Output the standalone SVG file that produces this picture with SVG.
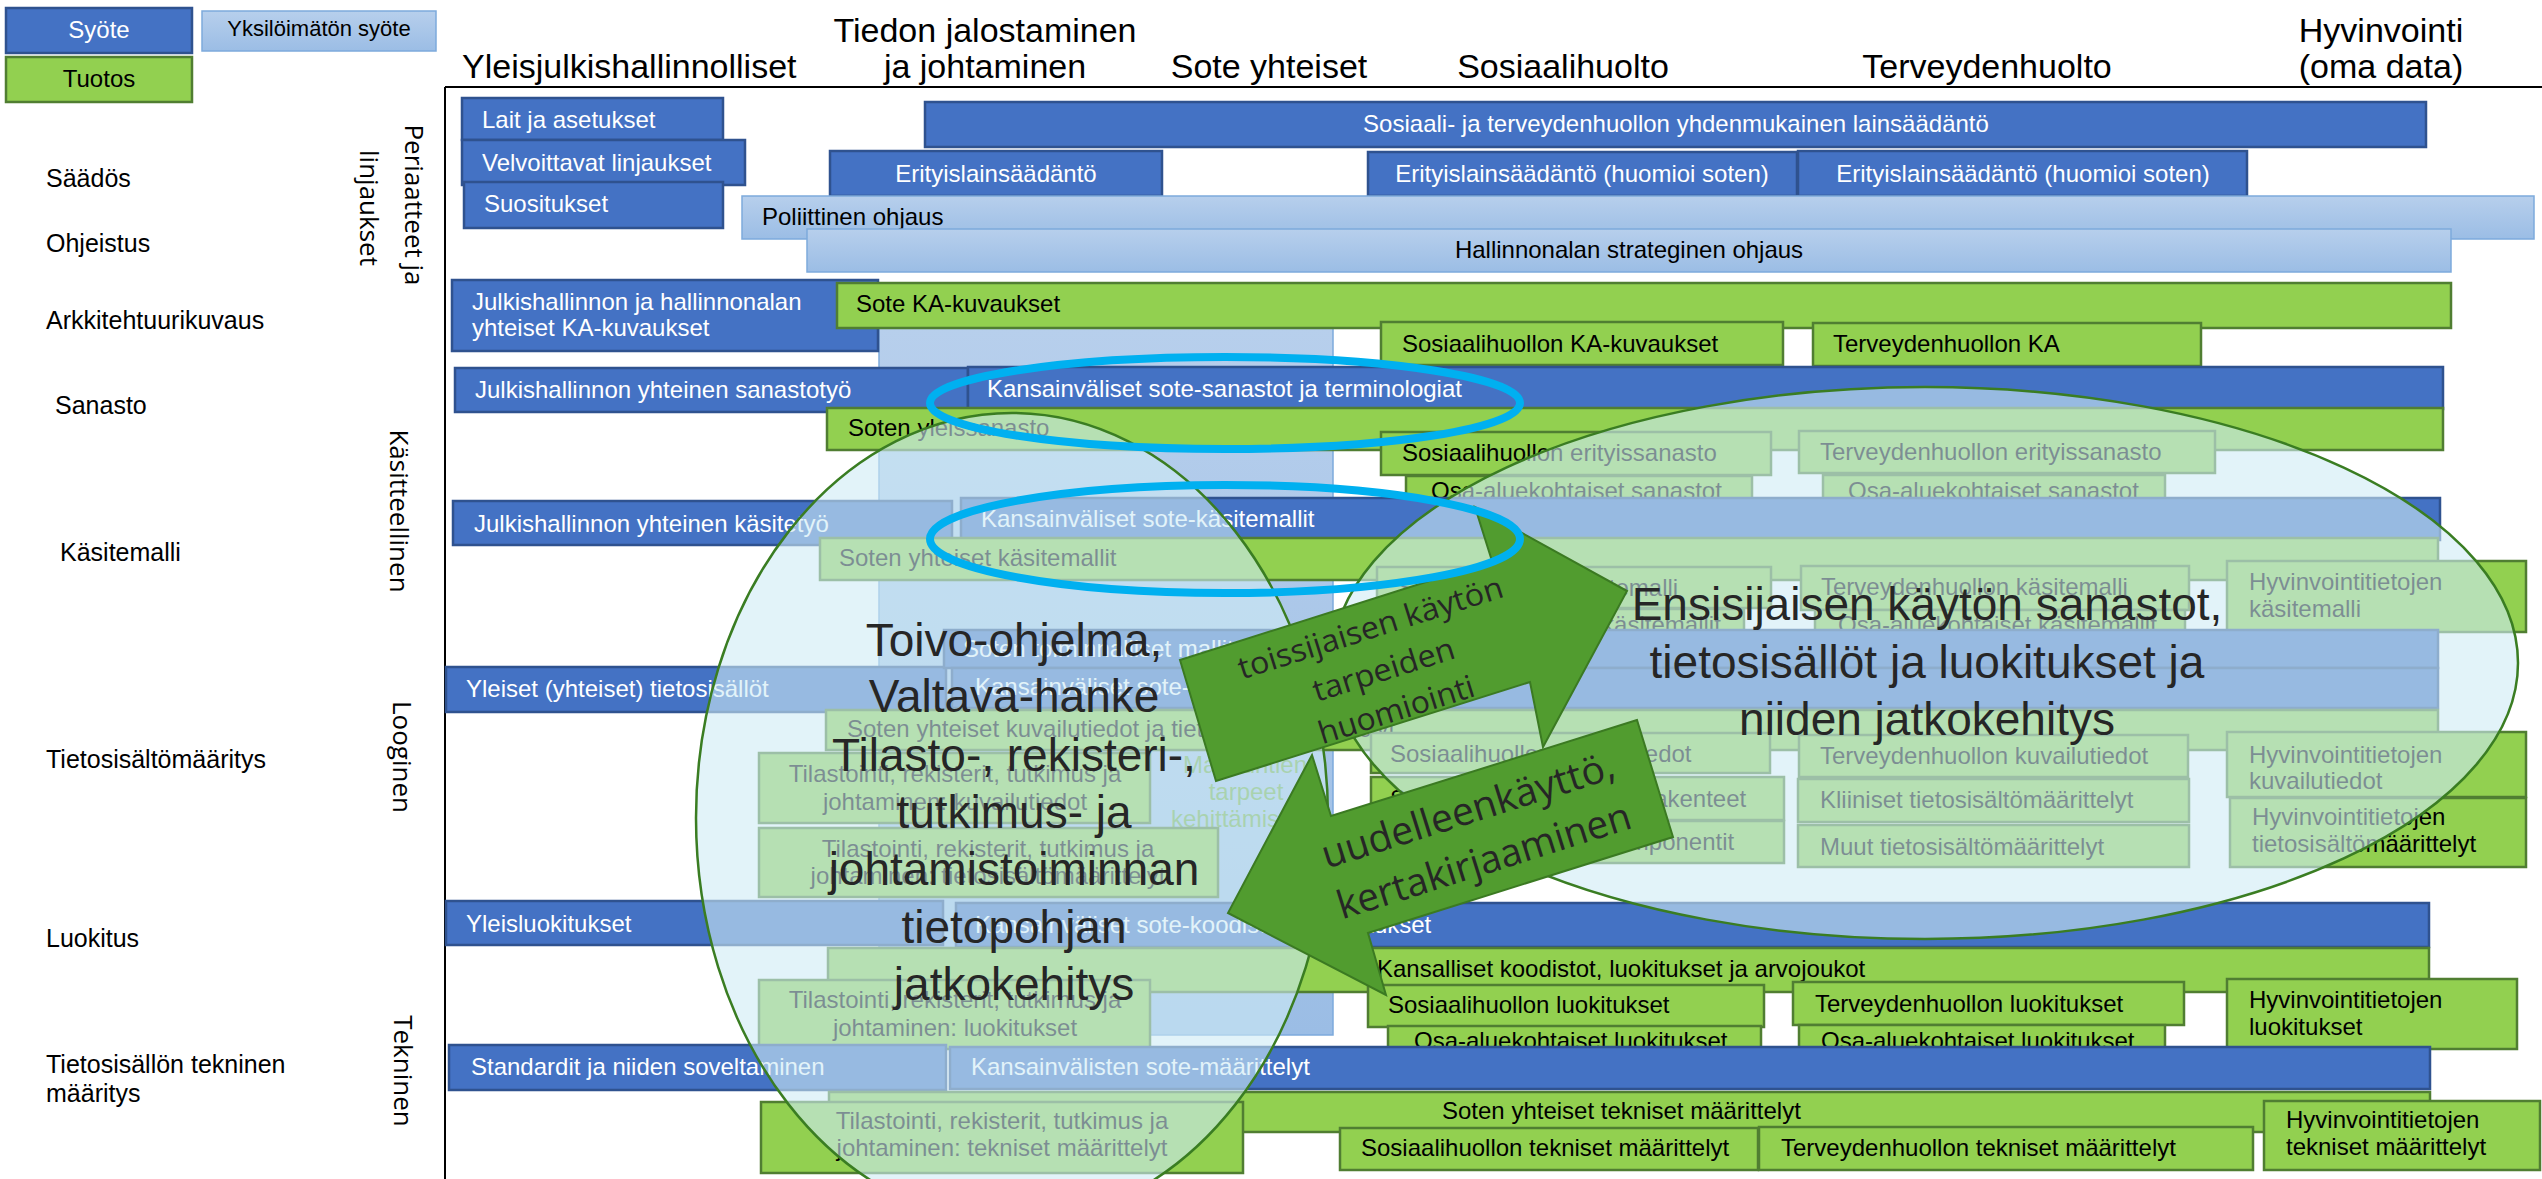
<svg xmlns="http://www.w3.org/2000/svg" width="2542" height="1179" viewBox="0 0 2542 1179">
<defs>
<linearGradient id="lbg" x1="0" y1="0" x2="0" y2="1"><stop offset="0" stop-color="#B7CFEC"/><stop offset="1" stop-color="#9BBDE5"/></linearGradient>
<style>
.db{fill:#4472C4;stroke:#2F528F;stroke-width:2.5}
.lb{fill:url(#lbg);stroke:#7DAADC;stroke-width:1.5}
.gr{fill:#92D050;stroke:#507E32;stroke-width:2.5}
.t{font-family:'Liberation Sans',Arial,sans-serif;font-size:24px;fill:#000}
.w{fill:#fff}
.m{text-anchor:middle}
.hd{font-family:'Liberation Sans',Arial,sans-serif;font-size:34px;fill:#000}
.rl{font-family:'Liberation Sans',Arial,sans-serif;font-size:25px;fill:#000}
.vt{font-family:'Open Sans','DejaVu Sans',sans-serif;font-size:26px;fill:#000;text-anchor:middle}
.big{font-family:'Liberation Sans',Arial,sans-serif;font-size:46px;fill:#262626;text-anchor:middle}
.ell{fill:#CEEBF5;fill-opacity:0.6;stroke:#3A7D22;stroke-width:2.5}
.arr{fill:#519C2F;stroke:#3B7A22;stroke-width:2}
.at{font-family:'Open Sans','DejaVu Sans',sans-serif;fill:#262626;text-anchor:middle}
.cy{fill:none;stroke:#00B0F0;stroke-width:8}
.frame{stroke:#000;stroke-width:2;fill:none}
.gt{fill:#70AD47}
</style>
</defs>
<rect width="2542" height="1179" fill="#fff"/>

<g id="legend">
<g id="leg-syote"><rect class="db" x="6" y="8" width="186" height="45"/><text class="t w m" x="99" y="38">Syöte</text></g>
<g id="leg-yksiloimaton"><rect class="lb" x="202" y="11" width="234" height="40"/><text class="t m" x="319" y="36" style="font-size:22px">Yksilöimätön syöte</text></g>
<g id="leg-tuotos"><rect class="gr" x="6" y="57" width="186" height="45"/><text class="t m" x="99" y="87">Tuotos</text></g>
</g>

<g id="headers">
<text class="hd" x="462" y="78">Yleisjulkishallinnolliset</text>
<text class="hd m" x="985" y="42">Tiedon jalostaminen</text>
<text class="hd m" x="985" y="78">ja johtaminen</text>
<text class="hd m" x="1269" y="78">Sote yhteiset</text>
<text class="hd m" x="1563" y="78">Sosiaalihuolto</text>
<text class="hd m" x="1987" y="78">Terveydenhuolto</text>
<text class="hd m" x="2381" y="42">Hyvinvointi</text>
<text class="hd m" x="2381" y="78">(oma data)</text>
<path class="frame" d="M445 87 H2542 M445 87 V1179"/>
</g>

<g id="row-labels">
<text class="rl" x="46" y="187">Säädös</text>
<text class="rl" x="46" y="252">Ohjeistus</text>
<text class="rl" x="46" y="329">Arkkitehtuurikuvaus</text>
<text class="rl" x="55" y="414">Sanasto</text>
<text class="rl" x="60" y="561">Käsitemalli</text>
<text class="rl" x="46" y="768">Tietosisältömääritys</text>
<text class="rl" x="46" y="947">Luokitus</text>
<text class="rl" x="46" y="1073">Tietosisällön tekninen</text>
<text class="rl" x="46" y="1102">määritys</text>
</g>

<g id="level-labels">
<text class="vt" transform="translate(405,205) rotate(90)">Periaatteet ja</text>
<text class="vt" transform="translate(360,208) rotate(90)">linjaukset</text>
<text class="vt" transform="translate(390,511) rotate(90)">Käsitteellinen</text>
<text class="vt" transform="translate(393,757) rotate(90)">Looginen</text>
<text class="vt" transform="translate(394,1071) rotate(90)">Tekninen</text>
</g>

<g id="n-sote-column"><rect class="lb" x="879" y="328" width="454" height="707"/></g>

<g id="n-lait"><rect class="db" x="462" y="98" width="261" height="42"/><text class="t w" x="482" y="128">Lait ja asetukset</text></g>
<g id="n-velvoittavat"><rect class="db" x="462" y="140" width="283" height="45"/><text class="t w" x="482" y="171">Velvoittavat linjaukset</text></g>
<g id="n-suositukset"><rect class="db" x="464" y="182" width="259" height="46"/><text class="t w" x="484" y="212">Suositukset</text></g>
<g id="n-sote-laki"><rect class="db" x="925" y="102" width="1501" height="45"/><text class="t w m" x="1676" y="132">Sosiaali- ja terveydenhuollon yhdenmukainen lainsäädäntö</text></g>
<g id="n-erityis1"><rect class="db" x="830" y="151" width="332" height="45"/><text class="t w m" x="996" y="182">Erityislainsäädäntö</text></g>
<g id="n-erityis2"><rect class="db" x="1368" y="152" width="429" height="44"/><text class="t w m" x="1582" y="182">Erityislainsäädäntö (huomioi soten)</text></g>
<g id="n-erityis3"><rect class="db" x="1798" y="151" width="449" height="45"/><text class="t w m" x="2023" y="182">Erityislainsäädäntö (huomioi soten)</text></g>
<g id="n-poliittinen"><rect class="lb" x="742" y="196" width="1792" height="43"/><text class="t" x="762" y="225">Poliittinen ohjaus</text></g>
<g id="n-hallinnonala"><rect class="lb" x="807" y="229" width="1644" height="43"/><text class="t m" x="1629" y="258">Hallinnonalan strateginen ohjaus</text></g>

<g id="n-julk-ka"><rect class="db" x="452" y="280" width="426" height="71"/><text class="t w" x="472" y="310">Julkishallinnon ja hallinnonalan</text><text class="t w" x="472" y="336">yhteiset KA-kuvaukset</text></g>
<g id="n-sote-ka"><rect class="gr" x="837" y="283" width="1614" height="45"/><text class="t" x="856" y="312">Sote KA-kuvaukset</text></g>
<g id="n-sos-ka"><rect class="gr" x="1381" y="322" width="402" height="43"/><text class="t" x="1402" y="352">Sosiaalihuollon KA-kuvaukset</text></g>
<g id="n-terv-ka"><rect class="gr" x="1813" y="323" width="388" height="43"/><text class="t" x="1833" y="352">Terveydenhuollon KA</text></g>

<g id="n-julk-sanasto"><rect class="db" x="455" y="368" width="513" height="44"/><text class="t w" x="475" y="398">Julkishallinnon yhteinen sanastotyö</text></g>
<g id="n-kv-sanastot"><rect class="db" x="968" y="367" width="1475" height="42"/><text class="t w" x="987" y="397">Kansainväliset sote-sanastot ja terminologiat</text></g>
<g id="n-soten-yleissanasto"><rect class="gr" x="827" y="408" width="1616" height="42"/><text class="t" x="848" y="436">Soten yleissanasto</text></g>
<g id="n-sos-erityissanasto"><rect class="gr" x="1381" y="432" width="390" height="43"/><text class="t" x="1402" y="461">Sosiaalihuollon erityissanasto</text></g>
<g id="n-sos-osa-sanastot"><rect class="gr" x="1406" y="476" width="346" height="36"/><text class="t" x="1431" y="499">Osa-aluekohtaiset sanastot</text></g>
<g id="n-terv-erityissanasto"><rect class="gr" x="1799" y="431" width="416" height="42"/><text class="t" x="1820" y="460">Terveydenhuollon erityissanasto</text></g>
<g id="n-terv-osa-sanastot"><rect class="gr" x="1823" y="475" width="342" height="37"/><text class="t" x="1848" y="499">Osa-aluekohtaiset sanastot</text></g>

<g id="n-julk-kasite"><rect class="db" x="453" y="501" width="499" height="44"/><text class="t w" x="474" y="532">Julkishallinnon yhteinen käsitetyö</text></g>
<g id="n-kv-kasite"><rect class="db" x="961" y="498" width="1479" height="42"/><text class="t w" x="981" y="527">Kansainväliset sote-käsitemallit</text></g>
<g id="n-soten-kasite"><rect class="gr" x="820" y="538" width="1618" height="42"/><text class="t" x="839" y="566">Soten yhteiset käsitemallit</text></g>
<g id="n-sos-kasite"><rect class="gr" x="1377" y="567" width="394" height="41"/><text class="t" x="1398" y="596">Sosiaalihuollon käsitemalli</text></g>
<g id="n-sos-osa-kasite"><rect class="gr" x="1381" y="609" width="363" height="36"/><text class="t" x="1402" y="633">Osa-aluekohtaiset käsitemallit</text></g>
<g id="n-terv-kasite"><rect class="gr" x="1801" y="566" width="388" height="44"/><text class="t" x="1821" y="595">Terveydenhuollon käsitemalli</text></g>
<g id="n-terv-osa-kasite"><rect class="gr" x="1815" y="610" width="370" height="35"/><text class="t" x="1838" y="633">Osa-aluekohtaiset käsitemallit</text></g>
<g id="n-hyv-kasite"><rect class="gr" x="2227" y="561" width="299" height="71"/><text class="t" x="2249" y="590">Hyvinvointitietojen</text><text class="t" x="2249" y="617">käsitemalli</text></g>

<g id="n-yleiset-tieto"><rect class="db" x="446" y="667" width="500" height="45"/><text class="t w" x="466" y="697">Yleiset (yhteiset) tietosisällöt</text></g>
<g id="n-soten-toiminnalliset"><rect class="db" x="944" y="630" width="1494" height="38"/><text class="t w" x="963" y="657">Soten toiminnalliset mallit</text></g>
<g id="n-kv-tieto"><rect class="db" x="952" y="668" width="1486" height="40"/><text class="t w" x="975" y="695">Kansainväliset sote-tietosisällöt</text></g>
<g id="n-soten-kuvailu"><rect class="gr" x="826" y="710" width="1612" height="40"/><text class="t" x="847" y="737">Soten yhteiset kuvailutiedot ja tietosisältömäärittelyt</text></g>
<g id="n-maakuntien"><text class="t m gt" x="1245" y="773">Maakuntien</text><text class="t m gt" x="1246" y="800">tarpeet</text><text class="t m gt" x="1245" y="827">kehittämiseen</text></g>
<g id="n-tilasto-kuvailu"><rect class="gr" x="759" y="753" width="391" height="70"/><text class="t m" x="955" y="782">Tilastointi, rekisterit, tutkimus ja</text><text class="t m" x="955" y="810">johtaminen: kuvailutiedot</text></g>
<g id="n-tilasto-tieto"><rect class="gr" x="759" y="828" width="459" height="69"/><text class="t m" x="988" y="857">Tilastointi, rekisterit, tutkimus ja</text><text class="t m" x="988" y="884">johtaminen: tietosisältömäärittelyt</text></g>
<g id="n-sos-kuvailu"><rect class="gr" x="1371" y="733" width="399" height="40"/><text class="t" x="1390" y="762">Sosiaalihuollon kuvailutiedot</text></g>
<g id="n-sos-asiakirja"><rect class="gr" x="1371" y="777" width="413" height="43"/><text class="t" x="1390" y="807">Sosiaalihuollon asiakirjarakenteet</text></g>
<g id="n-sos-komponentit"><rect class="gr" x="1371" y="821" width="413" height="42"/><text class="t" x="1390" y="850">Sosiaalihuollon tietokomponentit</text></g>
<g id="n-terv-kuvailu"><rect class="gr" x="1799" y="735" width="389" height="42"/><text class="t" x="1820" y="764">Terveydenhuollon kuvailutiedot</text></g>
<g id="n-kliiniset"><rect class="gr" x="1798" y="779" width="391" height="43"/><text class="t" x="1820" y="808">Kliiniset tietosisältömäärittelyt</text></g>
<g id="n-muut"><rect class="gr" x="1798" y="825" width="391" height="42"/><text class="t" x="1820" y="855">Muut tietosisältömäärittelyt</text></g>
<g id="n-hyv-kuvailu"><rect class="gr" x="2227" y="732" width="299" height="65"/><text class="t" x="2249" y="763">Hyvinvointitietojen</text><text class="t" x="2249" y="789">kuvailutiedot</text></g>
<g id="n-hyv-tieto"><rect class="gr" x="2230" y="798" width="296" height="69"/><text class="t" x="2252" y="825">Hyvinvointitietojen</text><text class="t" x="2252" y="852">tietosisältömäärittelyt</text></g>

<g id="n-yleisluokitukset"><rect class="db" x="446" y="901" width="497" height="44"/><text class="t w" x="466" y="932">Yleisluokitukset</text></g>
<g id="n-kv-koodistot"><rect class="db" x="956" y="903" width="1473" height="44"/><text class="t w" x="975" y="933">Kansainväliset sote-koodistot ja luokitukset</text></g>
<g id="n-kansalliset"><rect class="gr" x="828" y="948" width="1601" height="44"/><text class="t" x="1377" y="977">Kansalliset koodistot, luokitukset ja arvojoukot</text></g>
<g id="n-tilasto-luokitukset"><rect class="gr" x="759" y="980" width="391" height="69"/><text class="t m" x="955" y="1008">Tilastointi, rekisterit, tutkimus ja</text><text class="t m" x="955" y="1036">johtaminen: luokitukset</text></g>
<g id="n-sos-luokitukset"><rect class="gr" x="1368" y="985" width="396" height="42"/><text class="t" x="1388" y="1013">Sosiaalihuollon luokitukset</text></g>
<g id="n-sos-osa-luokitukset"><rect class="gr" x="1388" y="1026" width="373" height="32"/><text class="t" x="1414" y="1049">Osa-aluekohtaiset luokitukset</text></g>
<g id="n-terv-luokitukset"><rect class="gr" x="1793" y="982" width="391" height="43"/><text class="t" x="1815" y="1012">Terveydenhuollon luokitukset</text></g>
<g id="n-terv-osa-luokitukset"><rect class="gr" x="1799" y="1025" width="366" height="33"/><text class="t" x="1821" y="1049">Osa-aluekohtaiset luokitukset</text></g>
<g id="n-hyv-luokitukset"><rect class="gr" x="2227" y="979" width="290" height="70"/><text class="t" x="2249" y="1008">Hyvinvointitietojen</text><text class="t" x="2249" y="1035">luokitukset</text></g>

<g id="n-standardit"><rect class="db" x="449" y="1045" width="497" height="45"/><text class="t w" x="471" y="1075">Standardit ja niiden soveltaminen</text></g>
<g id="n-kv-maarittelyt"><rect class="db" x="950" y="1047" width="1480" height="42"/><text class="t w" x="971" y="1075">Kansainvälisten sote-määrittelyt</text></g>
<g id="n-soten-tekniset"><rect class="gr" x="829" y="1092" width="1601" height="40"/><text class="t" x="1442" y="1119">Soten yhteiset tekniset määrittelyt</text></g>
<g id="n-tilasto-tekniset"><rect class="gr" x="761" y="1102" width="482" height="71"/><text class="t m" x="1002" y="1129">Tilastointi, rekisterit, tutkimus ja</text><text class="t m" x="1002" y="1156">johtaminen: tekniset määrittelyt</text></g>
<g id="n-sos-tekniset"><rect class="gr" x="1340" y="1128" width="418" height="42"/><text class="t" x="1361" y="1156">Sosiaalihuollon tekniset määrittelyt</text></g>
<g id="n-terv-tekniset"><rect class="gr" x="1759" y="1127" width="494" height="43"/><text class="t" x="1781" y="1156">Terveydenhuollon tekniset määrittelyt</text></g>
<g id="n-hyv-tekniset"><rect class="gr" x="2264" y="1101" width="276" height="69"/><text class="t" x="2286" y="1128">Hyvinvointitietojen</text><text class="t" x="2286" y="1155">tekniset määrittelyt</text></g>

<g id="n-toissijainen-ellipse"><ellipse class="ell" cx="1012" cy="818" rx="316" ry="405"/>
<text class="big" x="1014" y="656">Toivo-ohjelma,</text>
<text class="big" x="1014" y="712">Valtava-hanke</text>
<text class="big" x="1014" y="771">Tilasto-, rekisteri-,</text>
<text class="big" x="1014" y="828">tutkimus- ja</text>
<text class="big" x="1014" y="885">johtamistoiminnan</text>
<text class="big" x="1014" y="943">tietopohjan</text>
<text class="big" x="1014" y="1000">jatkokehitys</text>
</g>
<g id="n-ensisijainen-ellipse"><ellipse class="ell" cx="1925" cy="663" rx="593" ry="276"/>
<text class="big" x="1927" y="620">Ensisijaisen käytön sanastot,</text>
<text class="big" x="1927" y="678">tietosisällöt ja luokitukset ja</text>
<text class="big" x="1927" y="735">niiden jatkokehitys</text>
</g>

<g id="connectors">
<g id="arrow-toissijainen">
<polygon class="arr" points="1180,660 1492,561 1475,507 1627,591 1543,747 1530,682 1216,781"/>
<g transform="translate(1382,671) rotate(-17.5)">
<text class="at" x="2" y="-34" style="font-size:31px" textLength="276" lengthAdjust="spacingAndGlyphs">toissijaisen käytön</text>
<text class="at" x="2" y="10" style="font-size:31px" textLength="147" lengthAdjust="spacingAndGlyphs">tarpeiden</text>
<text class="at" x="2" y="52" style="font-size:31px" textLength="162" lengthAdjust="spacingAndGlyphs">huomiointi</text>
</g>
</g>
<g id="arrow-uudelleenkaytto">
<polygon class="arr" points="1637,720 1331,816 1312,755 1228,913 1386,995 1368,933 1673,837"/>
<g transform="translate(1474,836) rotate(-17.5)">
<text class="at" x="2" y="-13" style="font-size:39px" textLength="305" lengthAdjust="spacingAndGlyphs">uudelleenkäyttö,</text>
<text class="at" x="2" y="40" style="font-size:39px" textLength="306" lengthAdjust="spacingAndGlyphs">kertakirjaaminen</text>
</g>
</g>
</g>

<g id="highlights">
<ellipse class="cy" cx="1225" cy="403" rx="295" ry="46"/>
<ellipse class="cy" cx="1225" cy="539" rx="295" ry="54"/>
</g>
</svg>
